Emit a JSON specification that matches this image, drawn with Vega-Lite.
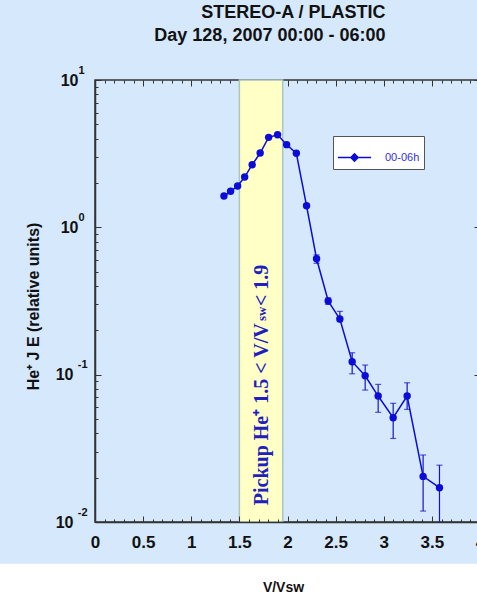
{
  "$schema": "https://vega.github.io/schema/vega-lite/v6.json",
  "width": 385,
  "height": 442,
  "autosize": {"type": "none"},
  "padding": {"left": 95, "top": 80, "right": 0, "bottom": 73},
  "background": "#d5e8fc",
  "title": {
    "text": ["STEREO-A / PLASTIC", "Day 128, 2007 00:00 - 06:00"],
    "font": "Liberation Sans",
    "fontSize": 18,
    "fontWeight": "bold",
    "color": "#111111",
    "lineHeight": 23.5,
    "anchor": "middle",
    "align": "right",
    "frame": "group",
    "dx": 98,
    "offset": 19
  },
  "config": {
    "font": "Liberation Sans",
    "view": {"stroke": "#333333", "strokeWidth": 1.5}
  },
  "data": {
    "values": [
      {"v": 1.34, "j": 1.63, "series": "00-06h"},
      {"v": 1.409, "j": 1.756, "series": "00-06h"},
      {"v": 1.482, "j": 1.908, "series": "00-06h"},
      {"v": 1.555, "j": 2.195, "series": "00-06h"},
      {"v": 1.633, "j": 2.66, "series": "00-06h"},
      {"v": 1.716, "j": 3.194, "series": "00-06h"},
      {"v": 1.804, "j": 4.08, "series": "00-06h"},
      {"v": 1.897, "j": 4.25, "series": "00-06h"},
      {"v": 1.991, "j": 3.64, "series": "00-06h"},
      {"v": 2.092, "j": 3.18, "series": "00-06h"},
      {"v": 2.198, "j": 1.4, "series": "00-06h"},
      {"v": 2.302, "j": 0.612, "lo": 0.57, "hi": 0.65, "series": "00-06h"},
      {"v": 2.423, "j": 0.316, "lo": 0.3, "hi": 0.332, "series": "00-06h"},
      {"v": 2.544, "j": 0.2385, "lo": 0.229, "hi": 0.269, "series": "00-06h"},
      {"v": 2.672, "j": 0.1224, "lo": 0.1014, "hi": 0.1408, "series": "00-06h"},
      {"v": 2.807, "j": 0.0983, "lo": 0.0786, "hi": 0.1162, "series": "00-06h"},
      {"v": 2.942, "j": 0.0716, "lo": 0.0555, "hi": 0.0859, "series": "00-06h"},
      {"v": 3.098, "j": 0.051, "lo": 0.0369, "hi": 0.0639, "series": "00-06h"},
      {"v": 3.243, "j": 0.0716, "lo": 0.0581, "hi": 0.0881, "series": "00-06h"},
      {"v": 3.409, "j": 0.0204, "lo": 0.01186, "hi": 0.0285, "series": "00-06h"},
      {"v": 3.579, "j": 0.0171, "lo": 0.009, "hi": 0.0243, "series": "00-06h"}
    ]
  },
  "layer": [
    {
      "data": {"values": [{}]},
      "mark": {"type": "rect", "color": "white", "clip": false},
      "encoding": {
        "x": {"datum": -1.2, "type": "quantitative", "scale": {"domain": [0, 4], "nice": false, "zero": false}, "axis": null},
        "x2": {"datum": 4.5},
        "y": {"datum": 0.0052, "type": "quantitative", "scale": {"type": "log", "domain": [0.01, 10], "nice": false}, "axis": null},
        "y2": {"datum": 0.0025}
      }
    },
    {
      "data": {"values": [{}]},
      "mark": {"type": "rect", "fill": "#ffffc6", "stroke": "#a9c6c0", "strokeWidth": 1.5},
      "encoding": {
        "x": {"datum": 1.5, "type": "quantitative", "scale": {"domain": [0, 4], "nice": false, "zero": false}, "axis": null},
        "x2": {"datum": 1.95}
      }
    },
    {
      "data": {"values": [{}]},
      "mark": {"type": "text", "text": "Pickup He⁺  1.5 < V/V", "font": "Liberation Serif", "fontWeight": "bold", "fontSize": 20, "color": "#2020c0", "angle": 270, "align": "left", "baseline": "middle"},
      "encoding": {
        "x": {"datum": 1.73, "type": "quantitative", "scale": {"domain": [0, 4], "nice": false, "zero": false}, "axis": null},
        "y": {"datum": 0.013, "type": "quantitative", "scale": {"type": "log", "domain": [0.01, 10], "nice": false}, "axis": null}
      }
    },
    {
      "data": {"values": [{}]},
      "mark": {"type": "text", "text": "sw", "font": "Liberation Serif", "fontWeight": "bold", "fontSize": 13, "color": "#2020c0", "angle": 270, "align": "left", "baseline": "middle", "dx": 6},
      "encoding": {
        "x": {"datum": 1.73, "type": "quantitative", "scale": {"domain": [0, 4], "nice": false, "zero": false}, "axis": null},
        "y": {"datum": 0.2105, "type": "quantitative", "scale": {"type": "log", "domain": [0.01, 10], "nice": false}, "axis": null}
      }
    },
    {
      "data": {"values": [{}]},
      "mark": {"type": "text", "text": "< 1.9", "font": "Liberation Serif", "fontWeight": "bold", "fontSize": 20, "color": "#2020c0", "angle": 270, "align": "left", "baseline": "middle"},
      "encoding": {
        "x": {"datum": 1.73, "type": "quantitative", "scale": {"domain": [0, 4], "nice": false, "zero": false}, "axis": null},
        "y": {"datum": 0.292, "type": "quantitative", "scale": {"type": "log", "domain": [0.01, 10], "nice": false}, "axis": null}
      }
    },
    {
      "transform": [{"filter": "isValid(datum.lo)"}],
      "mark": {"type": "rule", "color": "#1515c8", "strokeWidth": 1.2, "clip": true},
      "encoding": {
        "x": {"field": "v", "type": "quantitative", "scale": {"domain": [0, 4], "nice": false, "zero": false}, "axis": null},
        "y": {
          "field": "lo", "type": "quantitative",
          "scale": {"type": "log", "domain": [0.01, 10], "nice": false},
          "axis": {
            "orient": "left",
            "values": [0.01, 0.1, 1, 10],
            "labelExpr": "datum.value==0.01 ? '-2' : datum.value==0.1 ? '-1' : datum.value==1 ? '0' : '1'",
            "ticks": false,
            "domain": false,
            "grid": false,
            "title": null,
            "labelFontSize": 11,
            "labelFontWeight": "bold",
            "labelColor": "#111111",
            "labelPadding": {"condition": {"test": "datum.value<0.5", "value": 8}, "value": 11},
            "labelOffset": -10,
            "labelBaseline": "middle",
            "labelOverlap": false,
            "labelFlush": false
          }
        },
        "y2": {"field": "hi"}
      }
    },
    {
      "transform": [{"filter": "isValid(datum.lo)"}, {"fold": ["lo", "hi"], "as": ["bound", "ev"]}],
      "mark": {"type": "tick", "orient": "horizontal", "color": "#1515c8", "size": 6, "thickness": 1.2, "clip": true},
      "encoding": {
        "x": {"field": "v", "type": "quantitative", "scale": {"domain": [0, 4], "nice": false, "zero": false}, "axis": null},
        "y": {"field": "ev", "type": "quantitative", "scale": {"type": "log", "domain": [0.01, 10], "nice": false}, "axis": null}
      }
    },
    {
      "mark": {"type": "line", "strokeWidth": 1.5},
      "encoding": {
        "x": {
          "field": "v", "type": "quantitative",
          "scale": {"domain": [0, 4], "nice": false, "zero": false},
          "axis": {
            "orient": "bottom",
            "values": [0,0.1,0.2,0.3,0.4,0.5,0.6,0.7,0.8,0.9,1,1.1,1.2,1.3,1.4,1.5,1.6,1.7,1.8,1.9,2,2.1,2.2,2.3,2.4,2.5,2.6,2.7,2.8,2.9,3,3.1,3.2,3.3,3.4,3.5,3.6,3.7,3.8,3.9,4],
            "labelExpr": "abs(datum.value*2-round(datum.value*2))<1e-6 ? format(datum.value,'~g') : ''",
            "tickSize": {"condition": {"test": "abs(datum.value*2-round(datum.value*2))<1e-6", "value": -6}, "value": -3},
            "tickColor": "#333333",
            "domainColor": "#333333",
            "domainWidth": 1.5,
            "grid": false,
            "labelFontSize": 17,
            "labelFontWeight": "bold",
            "labelColor": "#111111",
            "labelPadding": 18,
            "labelFlush": false,
            "labelOverlap": false,
            "title": "V/Vsw",
            "titleFontSize": 14,
            "titleFontWeight": "bold",
            "titleColor": "#111111",
            "titleX": 188,
            "titleY": 65,
            "titleBaseline": "middle",
            "zindex": 1
          }
        },
        "y": {
          "field": "j", "type": "quantitative",
          "scale": {"type": "log", "domain": [0.01, 10], "nice": false},
          "axis": {
            "orient": "left",
            "values": [0.01,0.02,0.03,0.04,0.05,0.06,0.07,0.08,0.09,0.1,0.2,0.3,0.4,0.5,0.6,0.7,0.8,0.9,1,2,3,4,5,6,7,8,9,10],
            "labelExpr": "datum.value==0.01||datum.value==0.1||datum.value==1||datum.value==10 ? '10' : ''",
            "tickSize": {"condition": {"test": "datum.value==0.01||datum.value==0.1||datum.value==1||datum.value==10", "value": -6}, "value": -3},
            "tickColor": "#333333",
            "domainColor": "#333333",
            "domainWidth": 1.5,
            "grid": false,
            "labelFontSize": 16,
            "labelFontWeight": "bold",
            "labelColor": "#111111",
            "labelPadding": {"condition": {"test": "datum.value<0.5", "value": 28}, "value": 23},
            "labelOverlap": false,
            "labelFlush": false,
            "title": "He⁺ J E (relative units)",
            "titleFontSize": 16,
            "titleFontWeight": "bold",
            "titleColor": "#111111",
            "titleAngle": 270,
            "titleX": -62,
            "titleY": 226,
            "titleAlign": "center",
            "titleBaseline": "middle",
            "zindex": 1
          }
        },
        "color": {
          "field": "series", "type": "nominal",
          "scale": {"range": ["#0c0cd8"]},
          "legend": {
            "title": null,
            "orient": "none",
            "legendX": 238,
            "legendY": 56,
            "fillColor": "white",
            "strokeColor": "#555555",
            "padding": 4,
            "symbolType": "M-1,0H1M-0.22,0L0,-0.22L0.22,0L0,0.22Z",
            "symbolSize": 1100,
            "symbolStrokeWidth": 1.5,
            "symbolFillColor": "#0c0cd8",
            "symbolStrokeColor": "#0c0cd8",
            "labelColor": "#3030e0",
            "labelFontSize": 11,
            "labelOffset": 13
          }
        }
      }
    },
    {
      "mark": {"type": "circle", "size": 55, "opacity": 1},
      "encoding": {
        "x": {
          "field": "v", "type": "quantitative",
          "scale": {"domain": [0, 4], "nice": false, "zero": false},
          "axis": {
            "orient": "top",
            "values": [0,0.1,0.2,0.3,0.4,0.5,0.6,0.7,0.8,0.9,1,1.1,1.2,1.3,1.4,1.5,1.6,1.7,1.8,1.9,2,2.1,2.2,2.3,2.4,2.5,2.6,2.7,2.8,2.9,3,3.1,3.2,3.3,3.4,3.5,3.6,3.7,3.8,3.9,4],
            "labels": false,
            "domain": false,
            "grid": false,
            "title": null,
            "tickColor": "#333333",
            "tickSize": {"condition": {"test": "abs(datum.value*2-round(datum.value*2))<1e-6", "value": -6}, "value": -3}
          }
        },
        "y": {
          "field": "j", "type": "quantitative",
          "scale": {"type": "log", "domain": [0.01, 10], "nice": false},
          "axis": {
            "orient": "right",
            "values": [0.01,0.1,1,10],
            "labels": false,
            "domain": false,
            "grid": false,
            "title": null,
            "tickColor": "#333333",
            "tickSize": -6
          }
        },
        "color": {"field": "series", "type": "nominal", "scale": {"range": ["#0c0cd8"]}}
      }
    }
  ],
  "resolve": {"axis": {"x": "independent", "y": "independent"}}
}
